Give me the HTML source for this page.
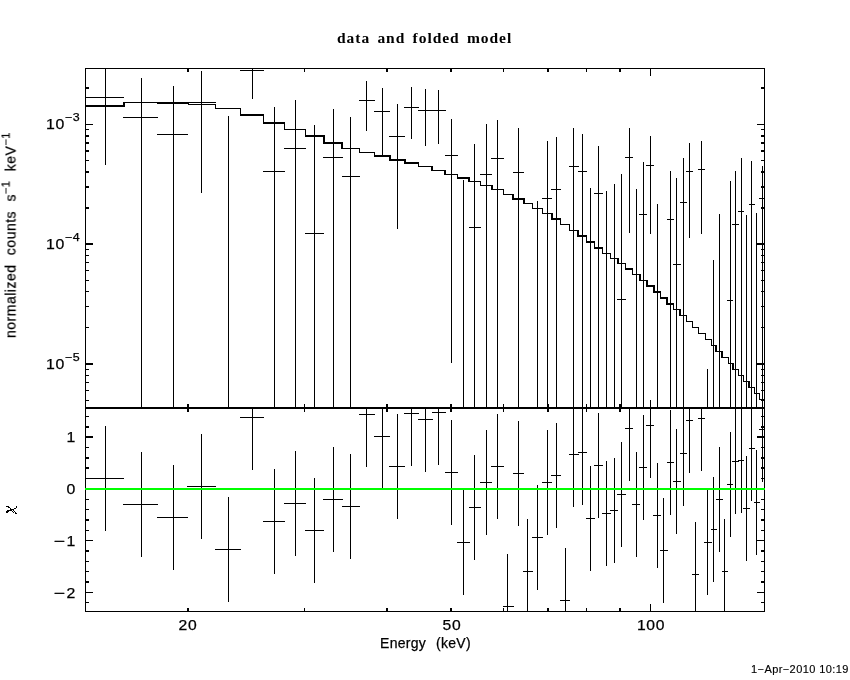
<!DOCTYPE html>
<html><head><meta charset="utf-8"><title>data and folded model</title>
<style>
html,body{margin:0;padding:0;background:#fff;}
body{width:850px;height:680px;overflow:hidden;position:relative;font-family:"Liberation Sans",sans-serif;color:#000;}
svg{position:absolute;left:0;top:0;display:block;}
.t{position:absolute;white-space:nowrap;line-height:1;will-change:transform;}
.s{font-family:"Liberation Sans",sans-serif;font-size:14px;letter-spacing:0.6px;-webkit-text-stroke:0.25px #000;}
.r{text-align:right;}
.m{display:inline-block;transform:scaleX(1.22);transform-origin:100% 50%;margin-right:0.6px;}
sup{font-size:11px;vertical-align:baseline;position:relative;top:-8px;letter-spacing:0.4px;line-height:0;}
</style></head><body>
<svg width="850" height="680" viewBox="0 0 850 680" shape-rendering="crispEdges">
<path fill="#000" d="M85 68h680v1h-680zM85 611h680v1h-680zM85 407h680v2h-680zM85 68h1v544h-1zM764 68h1v544h-1zM187 68h2v4h-2zM187 404h2v8h-2zM187 608h2v4h-2zM304 68h1v4h-1zM304 404h1v8h-1zM304 608h1v4h-1zM386 68h2v4h-2zM386 404h2v8h-2zM386 608h2v4h-2zM450 68h2v4h-2zM450 404h2v8h-2zM450 608h2v4h-2zM503 68h1v4h-1zM503 404h1v8h-1zM503 608h1v4h-1zM547 68h2v4h-2zM547 404h2v8h-2zM547 608h2v4h-2zM586 68h1v4h-1zM586 404h1v8h-1zM586 608h1v4h-1zM619 68h2v4h-2zM619 404h2v8h-2zM619 608h2v4h-2zM650 68h1v8h-1zM650 400h1v16h-1zM650 604h1v8h-1zM85 124h8v1h-8zM757 124h8v1h-8zM85 87h4v2h-4zM761 87h4v2h-4zM85 243h8v2h-8zM757 243h8v2h-8zM85 207h4v2h-4zM761 207h4v2h-4zM85 186h4v2h-4zM761 186h4v2h-4zM85 171h4v2h-4zM761 171h4v2h-4zM85 160h4v1h-4zM761 160h4v1h-4zM85 150h4v2h-4zM761 150h4v2h-4zM85 142h4v2h-4zM761 142h4v2h-4zM85 135h4v2h-4zM761 135h4v2h-4zM85 129h4v1h-4zM761 129h4v1h-4zM85 363h8v2h-8zM757 363h8v2h-8zM85 327h4v1h-4zM761 327h4v1h-4zM85 306h4v1h-4zM761 306h4v1h-4zM85 291h4v1h-4zM761 291h4v1h-4zM85 280h4v1h-4zM761 280h4v1h-4zM85 270h4v1h-4zM761 270h4v1h-4zM85 262h4v1h-4zM761 262h4v1h-4zM85 255h4v1h-4zM761 255h4v1h-4zM85 249h4v1h-4zM761 249h4v1h-4zM85 400h4v1h-4zM761 400h4v1h-4zM85 390h4v1h-4zM761 390h4v1h-4zM85 382h4v1h-4zM761 382h4v1h-4zM85 375h4v1h-4zM761 375h4v1h-4zM85 369h4v1h-4zM761 369h4v1h-4zM85 416h4v1h-4zM761 416h4v1h-4zM85 426h4v2h-4zM761 426h4v2h-4zM85 436h8v2h-8zM757 436h8v2h-8zM85 447h4v1h-4zM761 447h4v1h-4zM85 457h4v2h-4zM761 457h4v2h-4zM85 467h4v2h-4zM761 467h4v2h-4zM85 478h4v1h-4zM761 478h4v1h-4zM85 488h8v2h-8zM757 488h8v2h-8zM85 499h4v1h-4zM761 499h4v1h-4zM85 509h4v1h-4zM761 509h4v1h-4zM85 519h4v2h-4zM761 519h4v2h-4zM85 530h4v1h-4zM761 530h4v1h-4zM85 540h8v1h-8zM757 540h8v1h-8zM85 550h4v2h-4zM761 550h4v2h-4zM85 561h4v1h-4zM761 561h4v1h-4zM85 571h4v1h-4zM761 571h4v1h-4zM85 581h4v2h-4zM761 581h4v2h-4zM85 592h8v1h-8zM757 592h8v1h-8zM85 602h4v1h-4zM761 602h4v1h-4zM85 105h39v2h-39zM123 102h35v1h-35zM123 102h2v5h-2zM157 102h32v2h-32zM157 102h1v2h-1zM188 104h28v1h-28zM188 102h1v3h-1zM215 108h26v1h-26zM215 104h1v5h-1zM240 114h24v2h-24zM240 108h1v8h-1zM263 122h22v2h-22zM263 114h1v10h-1zM284 129h22v1h-22zM284 122h1v8h-1zM305 135h20v2h-20zM305 129h1v8h-1zM324 142h19v2h-19zM323 135h2v9h-2zM342 148h18v1h-18zM341 142h2v7h-2zM359 152h16v1h-16zM359 148h1v5h-1zM374 155h16v2h-16zM374 152h1v5h-1zM389 159h16v2h-16zM389 155h2v6h-2zM404 162h15v2h-15zM404 159h2v5h-2zM418 166h15v1h-15zM418 162h1v5h-1zM432 170h14v1h-14zM431 166h2v5h-2zM445 174h13v1h-13zM444 170h2v5h-2zM457 177h13v2h-13zM457 174h1v5h-1zM469 181h12v1h-12zM468 177h2v5h-2zM480 185h13v1h-13zM480 181h1v5h-1zM492 189h12v1h-12zM491 185h2v5h-2zM503 194h11v1h-11zM503 189h1v6h-1zM513 198h11v2h-11zM512 194h2v6h-2zM523 203h10v1h-10zM523 198h2v6h-2zM532 208h11v1h-11zM532 203h1v6h-1zM542 213h10v1h-10zM542 208h1v6h-1zM551 218h10v2h-10zM551 213h2v7h-2zM560 224h10v1h-10zM560 218h1v7h-1zM569 230h10v1h-10zM569 224h1v7h-1zM578 235h9v2h-9zM577 230h2v7h-2zM586 241h9v2h-9zM586 235h1v8h-1zM594 247h9v2h-9zM594 241h1v8h-1zM602 253h9v1h-9zM602 247h1v7h-1zM610 258h8v1h-8zM610 253h1v6h-1zM617 263h9v1h-9zM617 258h2v6h-2zM625 268h8v2h-8zM625 263h1v7h-1zM632 274h8v1h-8zM632 268h1v7h-1zM639 280h8v1h-8zM639 274h2v7h-2zM646 285h9v2h-9zM646 280h2v7h-2zM654 291h7v2h-7zM653 285h2v8h-2zM660 297h8v2h-8zM660 291h1v8h-1zM667 303h7v2h-7zM666 297h2v8h-2zM673 309h8v1h-8zM673 303h1v7h-1zM680 315h7v1h-7zM679 309h2v7h-2zM686 321h7v1h-7zM686 315h1v7h-1zM692 327h7v1h-7zM692 321h1v7h-1zM698 333h8v1h-8zM698 327h1v7h-1zM705 339h7v1h-7zM705 333h1v7h-1zM711 345h6v1h-6zM711 339h1v7h-1zM716 351h7v1h-7zM715 345h2v7h-2zM722 357h7v1h-7zM721 351h2v7h-2zM728 363h6v1h-6zM728 357h1v7h-1zM733 369h6v1h-6zM732 363h2v7h-2zM738 375h6v1h-6zM738 369h1v7h-1zM743 381h7v1h-7zM743 375h1v7h-1zM749 387h6v1h-6zM748 381h2v7h-2zM754 393h6v1h-6zM754 387h1v7h-1zM759 399h6v1h-6zM759 393h1v7h-1zM105 68h1v97h-1zM85 97h39v1h-39zM105 426h1v105h-1zM85 478h39v1h-39zM141 78h1v330h-1zM123 117h35v1h-35zM141 452h1v105h-1zM123 504h35v1h-35zM173 86h1v322h-1zM157 134h31v1h-31zM173 465h1v105h-1zM157 517h31v1h-31zM201 71h1v122h-1zM187 102h29v1h-29zM201 434h1v105h-1zM187 486h29v1h-29zM228 116h1v292h-1zM228 497h1v105h-1zM215 549h26v1h-26zM252 68h1v31h-1zM240 70h24v1h-24zM252 408h1v62h-1zM240 417h24v1h-24zM274 107h1v301h-1zM263 171h22v1h-22zM274 469h1v105h-1zM263 521h22v1h-22zM295 100h1v308h-1zM284 148h22v1h-22zM295 451h1v105h-1zM284 503h22v1h-22zM314 125h1v283h-1zM305 233h19v1h-19zM314 478h1v105h-1zM305 530h19v1h-19zM333 109h1v299h-1zM323 157h20v1h-20zM333 447h1v105h-1zM323 499h20v1h-20zM350 117h1v291h-1zM342 176h18v1h-18zM350 454h1v105h-1zM342 506h18v1h-18zM366 81h1v50h-1zM359 100h16v1h-16zM366 408h1v59h-1zM359 414h16v1h-16zM382 88h1v68h-1zM374 111h16v1h-16zM382 408h1v81h-1zM374 436h16v1h-16zM397 104h1v125h-1zM389 136h16v1h-16zM397 414h1v105h-1zM389 466h16v1h-16zM411 87h1v52h-1zM404 107h15v1h-15zM411 408h1v58h-1zM404 413h15v1h-15zM425 89h1v57h-1zM418 110h15v1h-15zM425 408h1v64h-1zM418 419h15v1h-15zM438 90h1v54h-1zM432 110h14v1h-14zM438 408h1v57h-1zM432 412h14v1h-14zM451 119h1v244h-1zM445 155h13v1h-13zM451 420h1v105h-1zM445 472h13v1h-13zM463 180h1v228h-1zM463 490h1v105h-1zM457 542h13v1h-13zM474 144h1v264h-1zM469 227h12v1h-12zM474 455h1v105h-1zM469 507h12v1h-12zM486 124h1v284h-1zM480 174h12v1h-12zM486 430h1v105h-1zM480 482h12v1h-12zM497 120h1v288h-1zM491 158h13v1h-13zM497 414h1v105h-1zM491 466h13v1h-13zM507 554h1v58h-1zM503 606h11v1h-11zM518 128h1v280h-1zM513 172h11v1h-11zM518 421h1v105h-1zM513 473h11v1h-11zM527 519h1v93h-1zM523 571h10v1h-10zM537 201h1v207h-1zM537 485h1v105h-1zM532 537h11v1h-11zM547 141h1v267h-1zM542 198h10v1h-10zM547 430h1v105h-1zM542 482h10v1h-10zM556 137h1v271h-1zM551 189h10v1h-10zM556 423h1v105h-1zM551 475h10v1h-10zM565 548h1v64h-1zM560 600h10v1h-10zM573 128h1v280h-1zM569 166h10v1h-10zM573 408h1v99h-1zM569 454h10v1h-10zM582 134h1v274h-1zM578 171h9v1h-9zM582 408h1v97h-1zM578 452h9v1h-9zM590 188h1v220h-1zM590 466h1v105h-1zM586 518h9v1h-9zM598 146h1v262h-1zM594 193h9v1h-9zM598 413h1v105h-1zM594 465h9v1h-9zM606 191h1v217h-1zM606 461h1v105h-1zM602 513h9v1h-9zM614 184h1v224h-1zM614 458h1v105h-1zM610 510h8v1h-8zM621 174h1v234h-1zM617 299h9v1h-9zM621 442h1v105h-1zM617 494h9v1h-9zM629 128h1v105h-1zM625 157h8v1h-8zM629 408h1v73h-1zM625 428h8v1h-8zM636 189h1v219h-1zM636 452h1v105h-1zM632 504h8v1h-8zM643 162h1v246h-1zM639 214h8v1h-8zM643 415h1v105h-1zM639 467h8v1h-8zM650 136h1v98h-1zM646 165h8v1h-8zM650 408h1v70h-1zM646 425h8v1h-8zM657 204h1v204h-1zM657 463h1v105h-1zM653 515h8v1h-8zM663 498h1v105h-1zM660 550h8v1h-8zM670 171h1v237h-1zM667 219h7v1h-7zM670 410h1v105h-1zM667 462h7v1h-7zM676 178h1v230h-1zM673 264h8v1h-8zM676 429h1v105h-1zM673 481h8v1h-8zM683 158h1v250h-1zM680 202h7v1h-7zM683 408h1v98h-1zM680 453h7v1h-7zM689 143h1v95h-1zM686 171h7v1h-7zM689 408h1v65h-1zM686 420h7v1h-7zM695 522h1v90h-1zM692 574h7v1h-7zM701 141h1v93h-1zM698 169h7v1h-7zM701 408h1v63h-1zM698 418h7v1h-7zM707 369h1v39h-1zM707 490h1v105h-1zM704 542h8v1h-8zM713 260h1v148h-1zM713 477h1v105h-1zM711 529h6v1h-6zM719 214h1v194h-1zM719 447h1v105h-1zM716 499h7v1h-7zM724 519h1v93h-1zM722 571h6v1h-6zM730 181h1v227h-1zM727 300h6v1h-6zM730 432h1v105h-1zM727 484h6v1h-6zM735 171h1v237h-1zM732 224h7v1h-7zM735 409h1v105h-1zM732 461h7v1h-7zM741 158h1v250h-1zM738 211h6v1h-6zM741 408h1v105h-1zM738 460h6v1h-6zM746 215h1v193h-1zM746 456h1v105h-1zM743 508h7v1h-7zM751 161h1v247h-1zM749 204h6v1h-6zM751 408h1v93h-1zM749 448h6v1h-6zM756 213h1v195h-1zM756 450h1v105h-1zM754 502h6v1h-6zM762 166h1v242h-1zM759 198h6v1h-6zM762 408h1v74h-1zM759 429h6v1h-6zM6 506h1v1h-1zM7 506h1v1h-1zM8 506h1v1h-1zM16 506h1v1h-1zM8 507h1v1h-1zM9 507h1v1h-1zM16 507h1v1h-1zM10 508h1v1h-1zM14 508h1v1h-1zM15 508h1v1h-1zM10 509h1v1h-1zM11 509h1v1h-1zM12 509h1v1h-1zM13 509h1v1h-1zM7 510h1v1h-1zM8 510h1v1h-1zM9 510h1v1h-1zM10 510h1v1h-1zM11 510h1v1h-1zM13 510h1v1h-1zM6 511h1v1h-1zM7 511h1v1h-1zM8 511h1v1h-1zM12 511h1v1h-1zM14 511h1v1h-1zM6 512h1v1h-1zM7 512h1v1h-1zM13 512h1v1h-1zM15 512h1v1h-1zM15 513h1v1h-1zM16 513h1v1h-1z"/>
<path fill="#00ff00" d="M85 488h680v2h-680z"/>
</svg>
<div class="t" id="title" style="left:337px;top:29.6px;font-family:'Liberation Serif',serif;font-weight:bold;font-size:15.5px;letter-spacing:0.95px;word-spacing:2.5px;">data and folded model</div>
<div class="t s d" style="left:158.2px;top:618px;width:60px;text-align:center;transform:scaleX(1.12);">20</div>
<div class="t s d" style="left:421.8px;top:618px;width:60px;text-align:center;transform:scaleX(1.12);">50</div>
<div class="t s d" style="left:621.1px;top:618px;width:60px;text-align:center;transform:scaleX(1.12);">100</div>
<div class="t s" id="xlab" style="left:380px;top:636px;letter-spacing:0.3px;word-spacing:5.6px;">Energy (keV)</div>
<div class="t s r d" style="left:20px;width:60px;top:117px;transform-origin:100% 50%;transform:scaleX(1.13);">10<sup>−3</sup></div>
<div class="t s r d" style="left:20px;width:60px;top:237px;transform-origin:100% 50%;transform:scaleX(1.13);">10<sup>−4</sup></div>
<div class="t s r d" style="left:20px;width:60px;top:357px;transform-origin:100% 50%;transform:scaleX(1.13);">10<sup>−5</sup></div>
<div class="t s r d" style="left:16px;width:60px;top:430.0px;transform-origin:100% 50%;transform:scaleX(1.13);">1</div>
<div class="t s r d" style="left:16px;width:60px;top:482.0px;transform-origin:100% 50%;transform:scaleX(1.13);">0</div>
<div class="t s r d" style="left:16px;width:60px;top:534.0px;transform-origin:100% 50%;transform:scaleX(1.13);"><span class="m">−</span>1</div>
<div class="t s r d" style="left:16px;width:60px;top:586.0px;transform-origin:100% 50%;transform:scaleX(1.13);"><span class="m">−</span>2</div>
<div class="t s" id="ylab" style="left:0;top:0;transform-origin:0 0;transform:translate(3.5px,338px) rotate(-90deg);letter-spacing:0.5px;word-spacing:5px;">normalized counts s<sup style="top:-6.5px">−1</sup> keV<sup style="top:-6.5px">−1</sup></div>
<div class="t" id="date" style="left:751px;top:664px;font-size:11px;letter-spacing:0.42px;-webkit-text-stroke:0.15px #000;">1−Apr−2010 10:19</div>
</body></html>
